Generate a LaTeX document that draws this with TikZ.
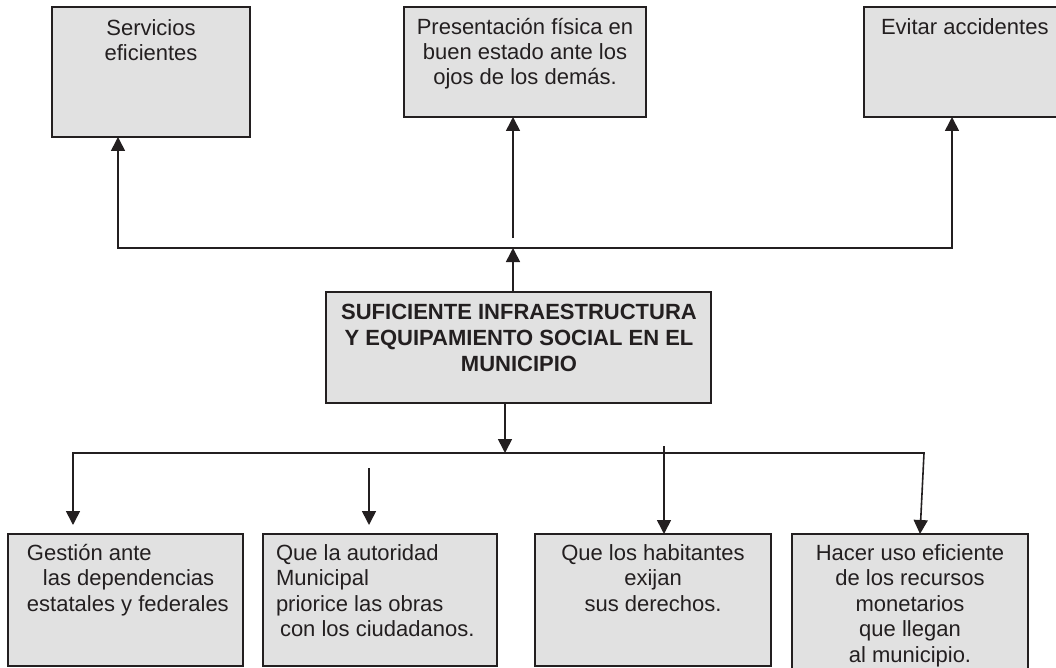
\documentclass[tikz,border=0pt]{standalone}
\usepackage{fontspec}
\setmainfont{Liberation Sans}
\usetikzlibrary{arrows.meta}
\definecolor{ink}{HTML}{231F20}
\definecolor{boxfill}{HTML}{E1E1E1}
\tikzset{
  boxnode/.style={draw=ink, fill=boxfill, line width=1.8pt, anchor=north west, inner sep=0pt, outer sep=0pt},
  txt/.style={inner sep=0pt, outer sep=0pt, text=ink, align=center, font=\fontsize{22}{25}\selectfont},
  txtb/.style={inner sep=0pt, outer sep=0pt, text=ink, align=center, font=\fontsize{22}{26}\selectfont\bfseries},
  txtl/.style={inner sep=0pt, outer sep=0pt, text=ink, font=\fontsize{22}{25.5}\selectfont},
  conn/.style={draw=ink, line width=1.6pt},
  tip/.tip={Triangle[width=14pt,length=14pt]}
}
\begin{document}
\begin{tikzpicture}[x=1pt,y=-1pt]
\useasboundingbox (0,0) rectangle (1056,668);
% top boxes
\node[boxnode, minimum width=198pt, minimum height=130pt] (s1) at (52,7) {};
\node[boxnode, minimum width=242pt, minimum height=110pt] (s2) at (404,7) {};
\node[boxnode, minimum width=200pt, minimum height=110pt] (s3) at (864,7) {};
\node[txt, anchor=north] (s1t) at (151,18.5) {\strut Servicios\\eficientes};
\node[txt, anchor=north] (s2t) at (525,17.5) {\strut Presentación física en\\buen estado ante los\\ojos de los demás.};
\node[txt, anchor=north west, align=left] (s3t) at (881,17.5) {\strut Evitar accidentes};
% center box
\node[boxnode, minimum width=385pt, minimum height=111pt] (ctr) at (326,292) {};
\node[txtb, anchor=north] (ctrt) at (519,300.8) {\strut SUFICIENTE INFRAESTRUCTURA\\Y EQUIPAMIENTO SOCIAL EN EL\\MUNICIPIO};
% bottom boxes
\node[boxnode, minimum width=235pt, minimum height=132pt] (ba) at (8,534) {};
\node[boxnode, minimum width=234pt, minimum height=132pt] (bb) at (263,534) {};
\node[boxnode, minimum width=236pt, minimum height=132pt] (bc) at (535,534) {};
\node[boxnode, minimum width=236pt, minimum height=150pt] (bd) at (792,534) {};
\node[txtl, anchor=north west, align=left] (bat) at (27,542.15) {\strut Gestión ante\\\hspace*{16pt}las dependencias\\estatales y federales};
\node[txtl, anchor=north west, align=left] (bbt) at (276,542.15) {\strut Que la autoridad\\Municipal\\priorice las obras\\\hspace*{4pt}con los ciudadanos.};
\node[txtl, anchor=north, align=center] (bct) at (653,542.15) {\strut Que los habitantes\\exijan\\sus derechos.};
\node[txtl, anchor=north, align=center] (bdt) at (910,542.15) {\strut Hacer uso eficiente\\de los recursos\\monetarios\\que llegan\\al municipio.};
% upper connectors
\coordinate (ju) at (513,248);
\coordinate (jl) at (118,248);
\coordinate (jr) at (952,248);
\coordinate (jm) at (513,238);
\draw[conn, -tip] (ctr.north -| ju) -- (ju);
\draw[conn, tip-tip] (jl |- s1.south) -- (jl) -- (jr) -- (jr |- s3.south);
\draw[conn, -tip] (jm) -- (jm |- s2.south);
% lower connectors
\coordinate (jd) at (505,453);
\coordinate (bl) at (73,453);
\coordinate (br) at (924,453);
\coordinate (ta) at (73,525);
\coordinate (tx) at (920,0);
\coordinate (fb1) at (369,468);
\coordinate (fb2) at (369,525);
\coordinate (fc) at (664,446);
\draw[conn, -tip] (ctr.south -| jd) -- (jd);
\draw[conn, tip-tip] (ta) -- (bl) -- (br) -- (bd.north -| tx);
\draw[conn, -tip] (fb1) -- (fb2);
\draw[conn, -tip] (fc) -- (fc |- bc.north);
\end{tikzpicture}
\end{document}
